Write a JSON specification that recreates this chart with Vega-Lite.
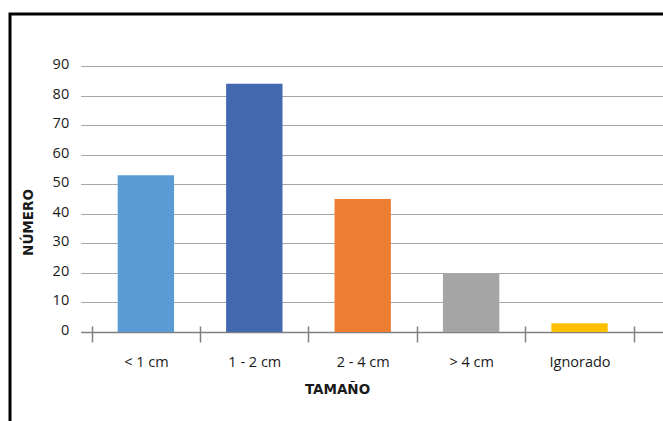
{
  "$schema": "https://vega.github.io/schema/vega-lite/v6.json",
  "width": 660,
  "height": 415,
  "autosize": {"type": "none"},
  "padding": {"left": 10, "top": 14, "right": 0, "bottom": 0},
  "background": "white",
  "config": {"view": {"stroke": "#000000", "strokeWidth": 3}, "font": "Open Sans"},
  "data": {"values": [
    {"tamano": "< 1 cm", "numero": 53},
    {"tamano": "1 - 2 cm", "numero": 84},
    {"tamano": "2 - 4 cm", "numero": 45},
    {"tamano": "> 4 cm", "numero": 20},
    {"tamano": "Ignorado", "numero": 3}
  ]},
  "mark": {"type": "bar", "width": {"band": 0.52}},
  "encoding": {
    "x": {
      "field": "tamano", "type": "nominal", "sort": null,
      "scale": {"type": "band", "domain": ["< 1 cm", "1 - 2 cm", "2 - 4 cm", "> 4 cm", "Ignorado"], "range": [70.7, 658.7], "paddingInner": 0, "paddingOuter": 0.212, "align": 0.239},
      "axis": {
        "title": "TAMAÑO", "orient": "bottom", "offset": -103, "domain": false, "grid": false,
        "tickBand": "extent", "tickSize": 16, "tickColor": "#7f7f7f", "tickWidth": 1.5,
        "labelAngle": 0, "labelFont": "Open Sans", "labelFontSize": 14.5, "labelColor": "#1a1a1a",
        "labelBaseline": "alphabetic", "labelPadding": 24,
        "titleFont": "DejaVu Sans", "titleFontSize": 13.5, "titleFontWeight": "bold", "titleColor": "#1a1a1a",
        "titleX": 327, "titleY": 67, "titleBaseline": "alphabetic", "titleAlign": "center"
      }
    },
    "y": {
      "field": "numero", "type": "quantitative",
      "scale": {"domain": [0, 90], "range": [318, 52], "nice": false, "zero": true},
      "axis": {
        "title": "NÚMERO", "orient": "left", "offset": -70.7,
        "values": [0, 10, 20, 30, 40, 50, 60, 70, 80, 90],
        "domain": false, "ticks": false, "tickSize": 0, "labelPadding": 12, "labelOffset": -1.5,
        "labelFont": "Open Sans", "labelFontSize": 14.5, "labelColor": "#1a1a1a",
        "grid": true,
        "gridColor": {"condition": {"test": "datum.value === 0", "value": "#7f7f7f"}, "value": "#a6a6a6"},
        "gridWidth": {"condition": {"test": "datum.value === 0", "value": 1.5}, "value": 1},
        "titleFont": "DejaVu Sans", "titleFontSize": 13.5, "titleFontWeight": "bold", "titleColor": "#1a1a1a",
        "titleAngle": 270, "titleX": -52, "titleY": 208, "titleBaseline": "middle", "titleAlign": "center"
      }
    },
    "color": {
      "field": "tamano", "type": "nominal",
      "scale": {"domain": ["< 1 cm", "1 - 2 cm", "2 - 4 cm", "> 4 cm", "Ignorado"], "range": ["#5b9bd5", "#4268b0", "#ed7d31", "#a5a5a5", "#ffc000"]},
      "legend": null
    }
  }
}
